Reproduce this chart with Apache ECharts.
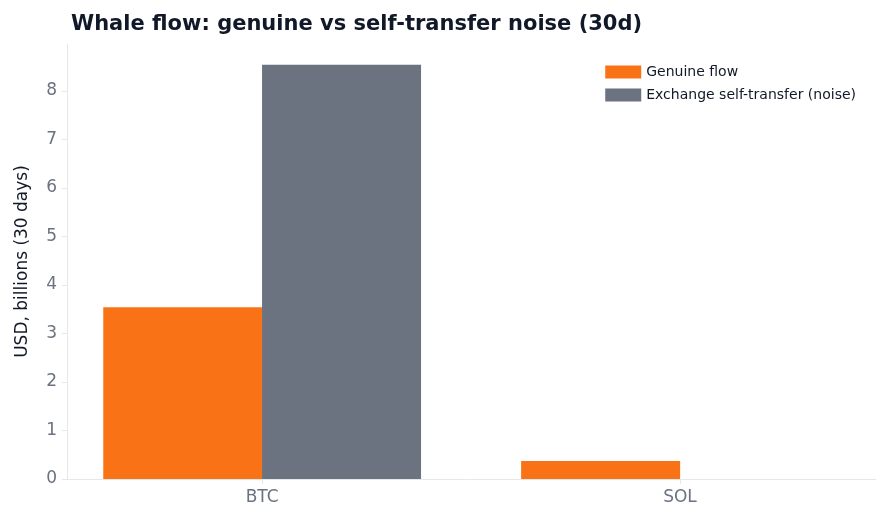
<!DOCTYPE html>
<html><head><meta charset="utf-8">
<script src="https://cdn.jsdelivr.net/npm/echarts@6/dist/echarts.min.js"></script>
<style>body{margin:0;background:#fff}#c{width:889px;height:525px}</style>
</head><body><div id="c"></div>
<script>
var categories = ['BTC', 'SOL']
var genuine = [3.54, 0.37]
var noise = [8.54, 0]
var yTicks = [0, 1, 2, 3, 4, 5, 6, 7, 8]

var chart = echarts.init(document.getElementById('c'))
var font = 'DejaVu Sans'
chart.setOption({
    animation: false,
    textStyle: {fontFamily: font},
    title: {text: 'Whale flow: genuine vs self-transfer noise (30d)', left: 66, top: 9,
        textStyle: {fontSize: 21, fontWeight: 'bold', color: '#111827', fontFamily: font}},
    legend: {right: 28, top: 60, orient: 'vertical', icon: 'rect', itemWidth: 36, itemHeight: 13, itemGap: 9,
        textStyle: {fontSize: 14, color: '#111827'},
        data: ['Genuine flow', 'Exchange self-transfer (noise)']},
    grid: {left: 67, right: 13, top: 44, bottom: 46},
    xAxis: {type: 'value', min: -0.467, max: 1.469,
        axisLine: {show: true, onZero: false, lineStyle: {color: '#e5e7eb'}},
        splitLine: {show: false},
        axisTick: {show: true, customValues: [0, 1], length: 5, lineStyle: {color: '#e5e7eb'}},
        axisLabel: {customValues: [0, 1], formatter: function (v) { return categories[Math.round(v)] },
            fontSize: 17, color: '#6b7280', margin: 10}},
    yAxis: {type: 'value', min: 0, max: 8.97,
        name: 'USD, billions (30 days)', nameLocation: 'middle', nameGap: 36,
        nameTextStyle: {fontSize: 17, color: '#111827'},
        axisLine: {show: true, onZero: false, lineStyle: {color: '#e5e7eb'}},
        splitLine: {show: false},
        axisTick: {show: true, customValues: yTicks, length: 5, lineStyle: {color: '#e5e7eb'}},
        axisLabel: {customValues: yTicks, fontSize: 17, color: '#6b7280', margin: 10}},
    series: [
        {name: 'Genuine flow', type: 'bar', barWidth: 159, barGap: '-100%',
            itemStyle: {color: '#f97316'},
            data: genuine.map(function (v, i) { return [i - 0.19, v] })},
        {name: 'Exchange self-transfer (noise)', type: 'bar', barWidth: 159, barGap: '-100%',
            itemStyle: {color: '#6b7280'},
            data: noise.map(function (v, i) { return [i + 0.19, v] })}
    ]
})
</script></body></html>
